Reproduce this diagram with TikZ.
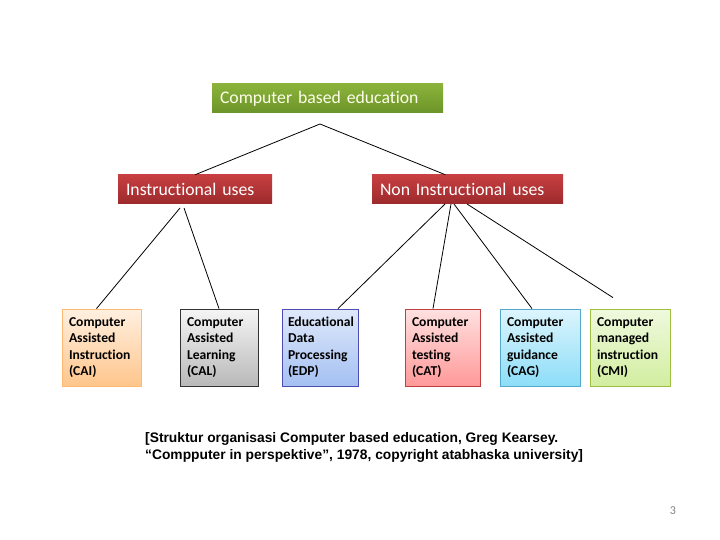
\documentclass[tikz,border=0pt]{standalone}
\usepackage{fontspec}
\setmainfont{Carlito}[Ligatures=NoCommon]
\newfontfamily\citefont{Liberation Sans}
\definecolor{cbegreen}{HTML}{8BB33B}
\definecolor{cbegreendk}{HTML}{6B9429}
\definecolor{usered}{HTML}{C73F41}
\definecolor{useredk}{HTML}{9C2A2C}
\definecolor{edpblue}{HTML}{A4C0F2}
\definecolor{cagcyan}{HTML}{8DDDF8}
\definecolor{cmigreen}{HTML}{D2EEA0}
\tikzset{
  headbox/.style={minimum height=29pt, inner xsep=8pt, inner ysep=0pt,
    align=left, font=\fontsize{17.7}{20}\selectfont, text=white},
  leafbox/.style={minimum height=77pt, inner xsep=7pt, inner ysep=0pt,
    align=left, line width=0.8pt, font=\bfseries\fontsize{13.6}{16.5}\selectfont},
  link/.style={line width=0.8pt}
}
\begin{document}
\begin{tikzpicture}[x=1pt,y=-1pt]
     \useasboundingbox (0,0) rectangle (720,540);
     % top level
     \node[headbox, text width=215pt, top color=cbegreen, bottom color=cbegreendk,
       text=white!92!yellow] (cbe) at (327.5,98.5) {Computer based education};
     \node[headbox, text width=138pt, top color=usered, bottom color=useredk] (instr) at (195,189.5) {Instructional uses};
     \node[headbox, text width=175pt, top color=usered, bottom color=useredk] (noninstr) at (467.5,189.5) {Non Instructional uses};
     % leaves
     \node[leafbox, text width=65pt, top color=orange!12, bottom color=orange!45, draw=orange!55] (cai) at (101.5,347.5) {Computer\\Assisted\\Instruction\\(CAI)};
     \node[leafbox, text width=64pt, top color=gray!8, bottom color=gray!55, draw=black!80] (cal) at (219,347.5) {Computer\\Assisted\\Learning\\(CAL)};
     \node[leafbox, text width=64pt, inner xsep=6pt, top color=edpblue!35, bottom color=edpblue, draw=blue!40!gray] (edp) at (320,347.5) {Educational\\Data\\Processing\\(EDP)};
     \node[leafbox, text width=61pt, top color=red!12, bottom color=red!40, draw=red!50!gray] (cat) at (442.5,347.5) {Computer\\Assisted\\testing\\(CAT)};
     \node[leafbox, text width=66pt, top color=cagcyan!30, bottom color=cagcyan, draw=cyan!60!gray] (cag) at (540,347.5) {Computer\\Assisted\\guidance\\(CAG)};
     \node[leafbox, text width=66pt, top color=cmigreen!35, bottom color=cmigreen, draw=lime!50!gray] (cmi) at (630,347.5) {Computer\\managed\\instruction\\(CMI)};
     % connectors
     \coordinate (cbe-foot) at (320,124);
     \coordinate (instr-foot-l) at (180,208);
     \coordinate (instr-foot-r) at (184,208);
     \coordinate (non-foot-a) at (445,204);
     \coordinate (non-foot-b) at (451,204);
     \coordinate (non-foot-c) at (454,204);
     \coordinate (non-foot-d) at (467,204);
     \draw[link] (cbe-foot) -- (instr.north);
     \draw[link] (cbe-foot) -- ([xshift=-22pt]noninstr.north);
     \draw[link] (instr-foot-l) -- ([xshift=-5pt]cai.north);
     \draw[link] (instr-foot-r) -- (cal.north);
     \draw[link] (non-foot-a) -- ([xshift=18pt]edp.north);
     \draw[link] (non-foot-b) -- ([xshift=-9.5pt]cat.north);
     \draw[link] (non-foot-c) -- ([xshift=-8pt]cag.north);
     \draw[link] (non-foot-d) -- ([xshift=-17pt,yshift=11pt]cmi.north);
     % source and page number
     \node[anchor=north west, align=left, inner sep=0pt,
       font=\citefont\bfseries\fontsize{13.8}{17}\selectfont] (source) at (145,432)
       {[Struktur organisasi Computer based education, Greg Kearsey.\\
        “Compputer in perspektive”, 1978, copyright atabhaska university]};
     \node[text=gray, font=\fontsize{12}{14}\selectfont] (pagenum) at (673,511) {3};
 \end{tikzpicture}
\end{document}
